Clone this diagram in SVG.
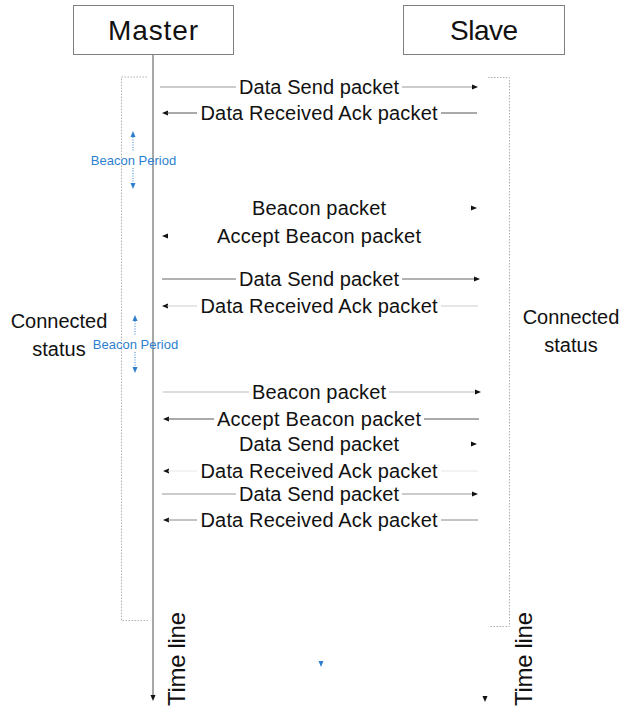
<svg xmlns="http://www.w3.org/2000/svg" xmlns:xlink="http://www.w3.org/1999/xlink" width="622" height="710" viewBox="0 0 622 710">
<style>
.box{fill:#fff;stroke:#7f7f7f;stroke-width:1}
.title{font-family:"Liberation Sans",Arial,sans-serif;font-size:28px;fill:#111;text-anchor:middle}
.lbl{font-family:"Liberation Sans",Arial,sans-serif;font-size:20px;fill:#111;text-anchor:middle}
.bp{font-family:"Liberation Sans",Arial,sans-serif;font-size:13px;fill:#2e7fd0;text-anchor:middle}
.dot{fill:none;stroke:#b0b0b0;stroke-width:1;stroke-dasharray:1.5 1.5}
.bdot{fill:none;stroke:#2e7fd0;stroke-width:1;stroke-dasharray:1 1.5}
.ah{fill:#111}
.bah{fill:#2e7fd0}
</style>
<defs>
<path id="ahR" d="M0,0 L-6,-2.5 L-6,2.5 Z"/>
<path id="ahL" d="M0,0 L6,-2.5 L6,2.5 Z"/>
<path id="ahD" d="M0,0 L-2.5,-6 L2.5,-6 Z"/>
<path id="ahU" d="M0,0 L-2.5,6 L2.5,6 Z"/>
</defs>

<g id="master">
<rect class="box" x="73.5" y="5.5" width="160" height="49"/>
<text class="title" x="153" y="40" textLength="90">Master</text>
</g>
<g id="slave">
<rect class="box" x="403.5" y="5.5" width="161" height="49"/>
<text class="title" x="484" y="40" textLength="68">Slave</text>
</g>

<g id="lifelines">
<line x1="153" y1="55" x2="153" y2="695" stroke="#8a8a8a" stroke-width="1.5"/>
<use href="#ahD" x="153" y="701" class="ah"/>
<use href="#ahD" x="485" y="702" class="ah"/>
<use href="#ahD" x="321" y="667" class="bah"/>
</g>

<g id="brackets">
<path class="dot" d="M147,77 H121.5 V620.5 H148"/>
<path class="dot" d="M488,77.5 H509.5 V626.5 H489"/>
</g>

<g id="connectors">
<!-- A -->
<line x1="160" y1="87" x2="236" y2="87" stroke="#999"/>
<line x1="402" y1="87" x2="473" y2="87" stroke="#999"/>
<use href="#ahR" x="478" y="87" class="ah"/>
<!-- B -->
<use href="#ahL" x="162" y="113" class="ah"/>
<line x1="167" y1="113" x2="197" y2="113" stroke="#555"/>
<line x1="441" y1="113" x2="477" y2="113" stroke="#555"/>
<!-- C -->
<use href="#ahR" x="477" y="208" class="ah"/>
<!-- D -->
<use href="#ahL" x="162" y="236" class="ah"/>
<!-- E -->
<line x1="162" y1="279" x2="236" y2="279" stroke="#666"/>
<line x1="402" y1="279" x2="475" y2="279" stroke="#666"/>
<use href="#ahR" x="480" y="279" class="ah"/>
<!-- F -->
<use href="#ahL" x="162" y="306" class="ah"/>
<line x1="167" y1="306" x2="197" y2="306" stroke="#ccc"/>
<line x1="441" y1="306" x2="478" y2="306" stroke="#ccc"/>
<!-- G -->
<line x1="163" y1="392" x2="249" y2="392" stroke="#bbb"/>
<line x1="389" y1="392" x2="476" y2="392" stroke="#bbb"/>
<use href="#ahR" x="481" y="392" class="ah"/>
<!-- H -->
<use href="#ahL" x="163" y="419" class="ah"/>
<line x1="168" y1="419" x2="214" y2="419" stroke="#555"/>
<line x1="424" y1="419" x2="479" y2="419" stroke="#555"/>
<!-- I -->
<use href="#ahR" x="477" y="444" class="ah"/>
<!-- J -->
<use href="#ahL" x="163" y="471" class="ah"/>
<line x1="168" y1="471" x2="197" y2="471" stroke="#e6e6e6"/>
<line x1="441" y1="471" x2="478" y2="471" stroke="#e6e6e6"/>
<!-- K -->
<line x1="162" y1="494" x2="236" y2="494" stroke="#999"/>
<line x1="402" y1="494" x2="473" y2="494" stroke="#999"/>
<use href="#ahR" x="478" y="494" class="ah"/>
<!-- L -->
<use href="#ahL" x="163" y="520" class="ah"/>
<line x1="168" y1="520" x2="197" y2="520" stroke="#888"/>
<line x1="441" y1="520" x2="478" y2="520" stroke="#888"/>
</g>

<g id="labels">
<text class="lbl" x="319" y="94" textLength="160">Data Send packet</text>
<text class="lbl" x="319" y="120" textLength="237">Data Received Ack packet</text>
<text class="lbl" x="319" y="215" textLength="134">Beacon packet</text>
<text class="lbl" x="319" y="243" textLength="204">Accept Beacon packet</text>
<text class="lbl" x="319" y="286" textLength="160">Data Send packet</text>
<text class="lbl" x="319" y="313" textLength="237">Data Received Ack packet</text>
<text class="lbl" x="319" y="399" textLength="134">Beacon packet</text>
<text class="lbl" x="319" y="426" textLength="204">Accept Beacon packet</text>
<text class="lbl" x="319" y="451" textLength="160">Data Send packet</text>
<text class="lbl" x="319" y="478" textLength="237">Data Received Ack packet</text>
<text class="lbl" x="319" y="501" textLength="160">Data Send packet</text>
<text class="lbl" x="319" y="527" textLength="237">Data Received Ack packet</text>
</g>

<g id="beacon-period-1">
<use href="#ahU" x="133" y="131" class="bah"/>
<line class="bdot" x1="133" y1="137" x2="133" y2="151"/>
<text class="bp" x="133.5" y="164.5">Beacon Period</text>
<line class="bdot" x1="133" y1="168" x2="133" y2="182"/>
<use href="#ahD" x="133" y="189" class="bah"/>
</g>
<g id="beacon-period-2">
<use href="#ahU" x="135" y="315" class="bah"/>
<line class="bdot" x1="135" y1="321" x2="135" y2="335"/>
<text class="bp" x="135.5" y="348.5">Beacon Period</text>
<line class="bdot" x1="135" y1="352" x2="135" y2="366"/>
<use href="#ahD" x="135" y="373" class="bah"/>
</g>

<g id="status-left">
<text class="lbl" x="59" y="328">Connected</text>
<text class="lbl" x="59" y="356">status</text>
</g>
<g id="status-right">
<text class="lbl" x="571" y="324">Connected</text>
<text class="lbl" x="571" y="352">status</text>
</g>

<g id="timeline-labels">
<text class="lbl" style="font-size:24px;text-anchor:start" transform="translate(185,706) rotate(-90)" textLength="94">Time line</text>
<text class="lbl" style="font-size:24px;text-anchor:start" transform="translate(532,706) rotate(-90)" textLength="94">Time line</text>
</g>
</svg>
